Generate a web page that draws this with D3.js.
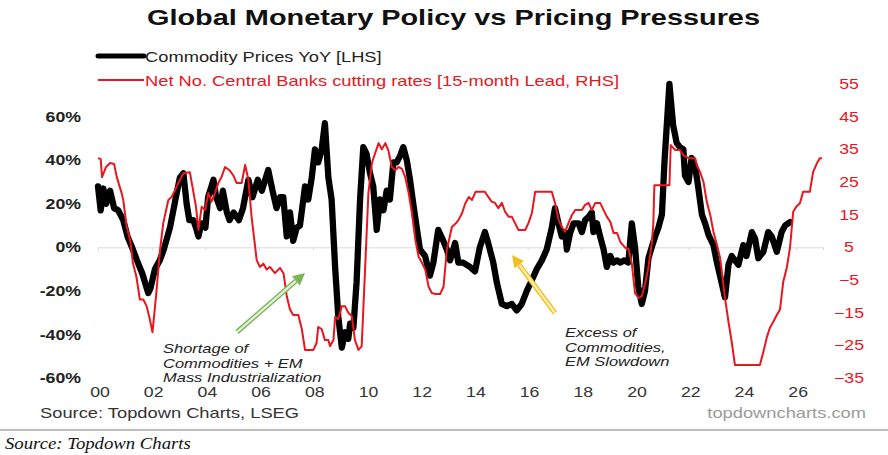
<!DOCTYPE html>
<html><head><meta charset="utf-8">
<script src="https://cdn.jsdelivr.net/npm/d3@7"></script>
<style>html,body{margin:0;padding:0;background:#fff;}svg{display:block;font-family:"Liberation Sans",Arial,sans-serif;}</style>
</head><body><svg id="c" width="888" height="455"></svg>
<script>
// ---------- DATA ----------
const commodityDates = [2000.0,2000.1,2000.2,2000.3,2000.45,2000.6,2000.75,2000.94,2001.1,2001.3,2001.45,2001.65,2001.87,2001.95,2002.12,2002.3,2002.45,2002.68,2002.9,2003.05,2003.18,2003.3,2003.4,2003.55,2003.65,2003.74,2003.85,2004.0,2004.1,2004.3,2004.4,2004.55,2004.65,2004.8,2004.9,2005.05,2005.25,2005.4,2005.6,2005.75,2005.95,2006.1,2006.34,2006.5,2006.65,2006.78,2006.9,2007.03,2007.15,2007.27,2007.4,2007.52,2007.71,2007.83,2007.96,2008.08,2008.2,2008.33,2008.45,2008.58,2008.7,2008.83,2008.95,2009.08,2009.2,2009.32,2009.39,2009.51,2009.63,2009.76,2009.88,2010.0,2010.13,2010.25,2010.38,2010.5,2010.63,2010.75,2010.87,2011.0,2011.12,2011.25,2011.37,2011.5,2011.62,2011.74,2011.87,2011.99,2012.18,2012.36,2012.49,2012.67,2012.86,2012.99,2013.11,2013.3,2013.42,2013.6,2013.85,2014.04,2014.22,2014.41,2014.53,2014.72,2014.85,2015.04,2015.22,2015.41,2015.59,2015.78,2015.97,2016.16,2016.34,2016.53,2016.71,2016.9,2017.02,2017.15,2017.27,2017.4,2017.46,2017.58,2017.71,2017.9,2018.02,2018.14,2018.27,2018.39,2018.45,2018.58,2018.7,2018.83,2018.95,2019.08,2019.2,2019.33,2019.44,2019.6,2019.75,2019.88,2020.0,2020.12,2020.25,2020.37,2020.5,2020.62,2020.75,2020.87,2021.0,2021.1,2021.28,2021.42,2021.55,2021.67,2021.8,2021.86,2021.99,2022.11,2022.24,2022.36,2022.49,2022.61,2022.74,2022.92,2023.05,2023.22,2023.35,2023.48,2023.6,2023.72,2023.85,2024.03,2024.15,2024.35,2024.47,2024.59,2024.78,2024.96,2025.09,2025.28,2025.46,2025.59,2025.77];
const commodityYoY = [28,17,27,20,26,18,17,12.5,5,-1,-6,-12,-21,-19,-10,-6,-1,9,23,32,34,20,12.5,12.5,9,5,11,9,23,31,23,18,26,16,12.5,16,12.5,18,31,23,31,26,35.5,26,18,23,23,5,16,3,9,10,28,22,32,45,39,45,57,32,22,-9,-32,-46,-39,-42,-35,-37,-16,22,46,43,34,28,8,22,17,26,22,39,39,42,46,40,31,20,9,-1,-4,-13,-7,8,3,-1,-6,2,-7,-7,-9,-11,0,7,2,-7,-16,-26,-27,-26,-29,-26,-20,-15,-10,-6,-1,9,18,11,5,7,-1,6.5,11,11,7,12.5,14,16,7,11,5,-1,-9,-4,-7,-6,-7,-6,-7,11,0,-18,-26,-20,-5,0,5,9,15,40,75,56,48,46,45,33,30,41,37,27,15,11,5.6,1,-7,-16,-23,-8,-4,-6,-8,1,-4,7,4,-5,-2,7,5,-2,7,10,11.6];

const cbDates = [2000.0,2000.1,2000.15,2000.3,2000.45,2000.6,2000.7,2000.88,2000.94,2001.07,2001.2,2001.3,2001.43,2001.56,2001.69,2001.81,2001.93,2002.03,2002.16,2002.31,2002.43,2002.62,2002.74,2002.87,2002.99,2003.18,2003.42,2003.54,2003.65,2003.74,2003.86,2003.99,2004.11,2004.23,2004.36,2004.48,2004.6,2004.73,2004.91,2005.04,2005.16,2005.35,2005.48,2005.6,2005.72,2005.91,2006.03,2006.16,2006.28,2006.4,2006.59,2006.78,2006.91,2007.03,2007.15,2007.27,2007.46,2007.59,2007.71,2008.02,2008.14,2008.2,2008.33,2008.45,2008.58,2008.64,2008.77,2008.83,2008.95,2009.08,2009.2,2009.32,2009.45,2009.57,2009.7,2009.82,2009.95,2010.07,2010.2,2010.32,2010.45,2010.57,2010.7,2010.82,2010.94,2011.07,2011.19,2011.32,2011.44,2011.57,2011.69,2011.82,2011.94,2012.07,2012.19,2012.31,2012.43,2012.56,2012.74,2012.87,2012.99,2013.18,2013.31,2013.43,2013.56,2013.68,2013.81,2013.93,2014.06,2014.41,2014.53,2014.66,2014.78,2014.91,2015.04,2015.16,2015.29,2015.41,2015.53,2015.66,2015.91,2016.03,2016.16,2016.28,2016.9,2017.02,2017.15,2017.27,2017.4,2017.52,2017.65,2017.77,2018.02,2018.14,2018.27,2018.39,2018.52,2018.7,2018.83,2018.95,2019.08,2019.2,2019.33,2019.45,2019.64,2019.76,2019.88,2020.0,2020.13,2020.25,2020.38,2020.5,2020.62,2020.68,2020.72,2021.28,2021.33,2021.5,2021.67,2021.8,2021.99,2022.24,2022.3,2022.42,2022.55,2022.67,2022.8,2022.92,2023.05,2023.17,2023.35,2023.48,2023.6,2023.72,2024.65,2024.78,2024.9,2025.02,2025.15,2025.28,2025.4,2025.52,2025.65,2025.77,2025.89,2026.01,2026.14,2026.26,2026.51,2026.63,2026.76,2026.88,2026.96];
const cbNetCuts = [32.3,32,26.5,29.6,30.8,30.5,26.5,21.6,19.5,11.2,7.2,0.2,-4,-11,-11,-13,-17,-21,-10,4.2,12.4,19.5,20.4,22.5,24.7,27.7,28,22.5,17.4,10.3,17.4,16.4,21.6,19,21.6,24.7,26.5,29.6,28.5,27,24.7,24.7,30.2,25.7,14.3,1.1,-1,0,-1.8,-1,-2.9,-1.3,-3,-10,-14,-15.7,-15.7,-20,-26.4,-26.4,-24.3,-19.4,-20,-23.4,-23.4,-25.3,-23.4,-16.3,-17,-13,-13,-15,-16,-23.4,-26.4,-25.3,-1,21.6,30.8,33.8,36.9,35,36.9,34.5,29.6,28.6,29.6,29,26.5,21.6,15.5,7.2,2.1,0.2,-1.9,-7,-9,-9.3,-9.3,-7,4.2,11.2,12.2,13.4,15.5,18.5,20.4,19.5,22,22,20.5,19,18.6,17,18.6,15.9,14.4,14.4,12.4,10.3,10.3,12.4,15.5,22,22,18.6,13.4,11.3,9.8,12.4,14.9,16.4,16.4,18,18.6,16.4,18.6,18.6,16.4,14.4,12.8,9.4,9.4,6.7,4.8,4.5,0,-9,-10.5,-10,-6,-1,6,12,24,24,36.3,34.8,34.8,33.2,32.3,32.3,30.2,28.1,25,19,14.9,9.8,5.7,1.7,-10.5,-17.8,-23.9,-31,-31,-27,-22.8,-19.7,-17.8,-15.7,-14,-5.5,-1.3,4.8,15.9,17.5,18.5,22,22,28,30.5,32.3,32.3];

const leftTicks = [-60,-40,-20,0,20,40,60];
const rightTicks = [-35,-25,-15,-5,5,15,25,35,45,55];
const xTicks = [2000,2002,2004,2006,2008,2010,2012,2014,2016,2018,2020,2022,2024,2026];

// ---------- CHART ----------
const svg = d3.select("#c");
const RED = "#e8161e";
const x = d3.scaleLinear().domain([2000, 2027]).range([98, 823]);
const yL = d3.scaleLinear().domain([-60, 75]).range([378, 84]);
const yR = d3.scaleLinear().domain([-35, 55]).range([378, 84]);
const FONT = '"Liberation Sans",Arial,sans-serif';

// title
svg.append("text").attr("class", "title").attr("x", 453.5).attr("y", 25).attr("text-anchor", "middle")
  .attr("font-size", 22).attr("font-weight", "bold").attr("fill", "#111")
  .text("Global Monetary Policy vs Pricing Pressures");

// legend
const lg = svg.append("g");
lg.append("line").attr("x1", 98).attr("x2", 144).attr("y1", 56).attr("y2", 56)
  .attr("stroke", "#000").attr("stroke-width", 5).attr("stroke-linecap", "round");
lg.append("text").attr("x", 145).attr("y", 61.5).attr("font-size", 15).attr("fill", "#222")
  .text("Commodity Prices YoY [LHS]");
lg.append("line").attr("x1", 98).attr("x2", 144).attr("y1", 80).attr("y2", 80)
  .attr("stroke", RED).attr("stroke-width", 2);
lg.append("text").attr("x", 145).attr("y", 85.5).attr("font-size", 15).attr("fill", RED)
  .text("Net No. Central Banks cutting rates [15-month Lead, RHS]");

// zero line + x axis
const xAxis = d3.axisBottom(x).tickValues(xTicks).tickSize(3).tickFormat(() => "");
const gx = svg.append("g").attr("transform", `translate(0,${yL(0)})`).call(xAxis);
gx.select(".domain").attr("stroke", "#d9d9d9");
gx.selectAll(".tick line").attr("stroke", "#d9d9d9");
svg.append("g").selectAll("text").data(xTicks).join("text")
  .attr("x", d => x(d) + 2).attr("y", 397).attr("text-anchor", "middle")
  .attr("font-size", 14.5).attr("fill", "#333")
  .text(d => String(d % 100).padStart(2, "0"));

// left axis
const gl = svg.append("g").attr("transform", "translate(81,0)")
  .call(d3.axisLeft(yL).tickValues(leftTicks).tickSize(0).tickPadding(0).tickFormat(d => d + "%"));
gl.select(".domain").remove();
gl.selectAll("text").attr("font-size", 14.5).attr("font-weight", "bold").attr("fill", "#222")
  .attr("font-family", FONT);

// right axis
const gr = svg.append("g").attr("transform", "translate(838,0)")
  .call(d3.axisRight(yR).tickValues(rightTicks).tickSize(0).tickPadding(0));
gr.select(".domain").remove();
gr.selectAll("text").attr("font-size", 14.5).attr("fill", RED).attr("text-anchor", "middle")
  .attr("x", 11).attr("font-family", FONT);

// series
const blackData = commodityDates.map((d, i) => [d, commodityYoY[i]]);
const redData = cbDates.map((d, i) => [d, cbNetCuts[i]]);
svg.append("path").datum(blackData)
  .attr("d", d3.line().x(d => x(d[0])).y(d => yL(d[1])))
  .attr("fill", "none").attr("stroke", "#000").attr("stroke-width", 6.3)
  .attr("stroke-linejoin", "round").attr("stroke-linecap", "round");
svg.append("path").datum(redData)
  .attr("d", d3.line().x(d => x(d[0])).y(d => yR(d[1])))
  .attr("fill", "none").attr("stroke", RED).attr("stroke-width", 2)
  .attr("stroke-linejoin", "round");

// arrows
function arrow(x1, y1, x2, y2, col, pale) {
  const ang = Math.atan2(y2 - y1, x2 - x1);
  const hl = 12, hw = 6;
  const bx = x2 - hl * Math.cos(ang), by = y2 - hl * Math.sin(ang);
  const g = svg.append("g");
  g.append("line").attr("x1", x1).attr("y1", y1).attr("x2", bx).attr("y2", by)
    .attr("stroke", col).attr("stroke-width", 5);
  g.append("line").attr("x1", x1).attr("y1", y1).attr("x2", bx).attr("y2", by)
    .attr("stroke", pale).attr("stroke-width", 2.2);
  const px = -Math.sin(ang), py = Math.cos(ang);
  g.append("path").attr("d", `M${x2},${y2}L${bx + hw * px},${by + hw * py}L${bx - hw * px},${by - hw * py}Z`)
    .attr("fill", col);
}
arrow(237, 332, 305, 273, "#7cb45a", "#e3f0d8");
arrow(555, 313, 512, 255, "#f0c020", "#fdf0b8");

// annotations
const ann1 = ["Shortage of", "Commodities + EM", "Mass Industrialization"];
svg.append("g").selectAll("text").data(ann1).join("text")
  .attr("x", 163).attr("y", (d, i) => 353 + i * 14.5).attr("font-size", 13.5)
  .attr("font-style", "italic").attr("fill", "#222").text(d => d);
const ann2 = ["Excess of", "Commodities,", "EM Slowdown"];
svg.append("g").selectAll("text").data(ann2).join("text")
  .attr("x", 565).attr("y", (d, i) => 337 + i * 14.5).attr("font-size", 13.5)
  .attr("font-style", "italic").attr("fill", "#222").text(d => d);

// footer
svg.append("text").attr("x", 40).attr("y", 418).attr("font-size", 15).attr("fill", "#333")
  .text("Source: Topdown Charts, LSEG");
svg.append("text").attr("x", 866).attr("y", 418).attr("text-anchor", "end").attr("font-size", 15)
  .attr("fill", "#9a9a9a").text("topdowncharts.com");
svg.append("line").attr("x1", 0).attr("x2", 888).attr("y1", 430).attr("y2", 430)
  .attr("stroke", "#bdbdbd").attr("stroke-width", 2);
svg.append("text").attr("class", "serif").attr("x", 5).attr("y", 449).attr("font-size", 16).attr("font-style", "italic")
  .attr("font-family", '"Liberation Serif","Times New Roman",serif').attr("fill", "#111")
  .text("Source: Topdown Charts");

// the reference image is horizontally stretched: widen every text run to match
svg.selectAll("text").each(function () {
  const el = d3.select(this);
  const w = this.getComputedTextLength();
  let k = 1.22;
  if (el.classed("title")) k = 613 / w;
  else if (el.classed("serif")) k = 1.17;
  el.attr("textLength", w * k).attr("lengthAdjust", "spacingAndGlyphs");
});
</script></body></html>
